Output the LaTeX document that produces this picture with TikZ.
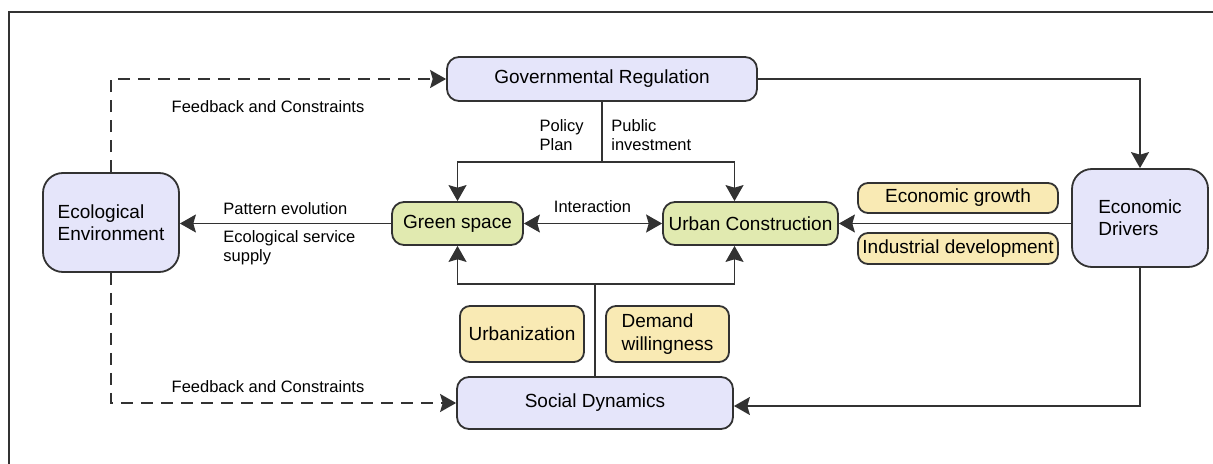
\documentclass[tikz,border=0pt]{standalone}
\usepackage{fontspec}
\setmainfont{Liberation Sans}
\usetikzlibrary{arrows.meta}

\definecolor{lavender}{RGB}{229,229,250}
\definecolor{leaf}{RGB}{225,234,176}
\definecolor{sand}{RGB}{249,234,180}
\definecolor{edge}{RGB}{50,50,50}

\begin{document}
\begin{tikzpicture}[x=0.5pt, y=-0.5pt,
    tip/.tip={Stealth[length=8pt, width=9pt, inset=1.3pt]},
    actor/.style={draw=edge, line width=0.9pt, fill=lavender, rounded corners=6pt,
      inner sep=0pt, font=\fontsize{9.5}{11.2}\selectfont},
    space/.style={actor, fill=leaf},
    factor/.style={actor, fill=sand, rounded corners=5pt},
    note/.style={inner sep=0pt, font=\fontsize{8.25}{9.6}\selectfont},
    link/.style={draw=edge, line width=0.85pt},
    flow/.style={link, -tip},
    loop/.style={flow, dash pattern=on 6pt off 4pt}]
    \useasboundingbox (0,0) rectangle (1213,464);
    \draw[line width=1.3pt, edge] (9,470) |- (1220,12);

    \node[actor, minimum width=155pt, minimum height=22pt] (gov) at (602,79) {Governmental Regulation};
    \node[space, minimum width=65.5pt, minimum height=21.5pt] (green) at (457.5,223.5) {Green space};
    \node[space, minimum width=87.5pt, minimum height=21.5pt] (urban) at (750.5,223.5) {Urban Construction};
    \node[actor, rounded corners=10pt, minimum width=68pt, minimum height=49.5pt, align=left] (eco) at (111,222.5) {Ecological\\Environment};
    \node[actor, rounded corners=10pt, minimum width=68pt, minimum height=49pt, align=left] (econ) at (1140,218) {Economic\\Drivers};
    \node[actor, minimum width=138pt, minimum height=26pt] (social) at (595,403) {Social Dynamics};

    \node[factor, minimum width=100pt, minimum height=15pt] (growth) at (958,198) {Economic growth};
    \node[factor, minimum width=100pt, minimum height=15.5pt] (industry) at (958,248.5) {Industrial development};
    \node[factor, minimum width=62pt, minimum height=28pt] (urbanize) at (522,334) {Urbanization};
    \node[factor, minimum width=61.5pt, minimum height=28pt, align=left] (demand) at (667.5,334) {Demand\\willingness};

    \node[note] (feedtop) at (268,107) {Feedback and Constraints};
    \node[note] (feedbot) at (268,387) {Feedback and Constraints};
    \node[note, anchor=east, align=left] (policy) at (584,135) {Policy\\Plan};
    \node[note, anchor=west, align=left] (invest) at (611,135) {Public\\investment};
    \node[note] (interact) at (592.5,207) {Interaction};
    \node[note, anchor=west] (pattern) at (223,209) {Pattern evolution};
    \node[note, anchor=west, align=left] (service) at (223,248) {Ecological service\\supply};

    % regulation goes down to both spaces and across to the economy
    \draw[flow] (gov.east) -| (econ.north);
    \draw[link] (gov.south) -- ++(0,60) coordinate (govsplit);
    \draw[flow] (govsplit) -| (green.north);
    \draw[flow] (govsplit) -| ([xshift=-8pt]urban.north);

    % society pushes up from below
    \draw[link] (social.north) -- ++(0,-92) coordinate (socsplit);
    \draw[flow] (socsplit) -| (green.south);
    \draw[flow] (socsplit) -| ([xshift=-8pt]urban.south);

    \draw[link, tip-tip] (green) -- (urban);
    \draw[flow] (green.west) -- (eco.east |- green.west);
    \draw[flow] (econ.west |- urban.east) -- (urban.east);
    \draw[flow] (econ.south) |- ([yshift=-1.5pt]social.east);

    % feedback from the environment
    \draw[loop] (eco.north) |- (gov.west);
    \draw[loop] (eco.south) |- (social.west);
\end{tikzpicture}
\end{document}
